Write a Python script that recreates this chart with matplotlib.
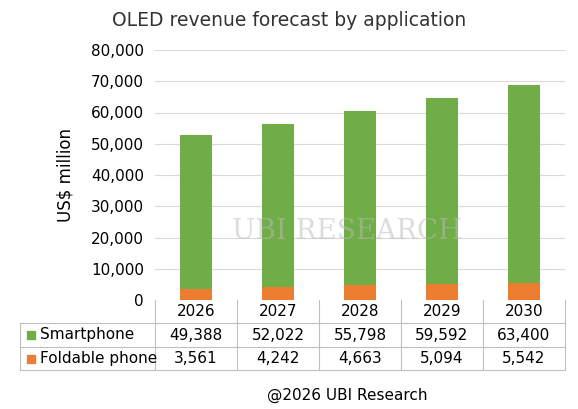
import matplotlib.pyplot as plt
import matplotlib.transforms as mtransforms
from matplotlib.lines import Line2D
from matplotlib.patches import Rectangle

years = ["2026", "2027", "2028", "2029", "2030"]
smartphone = [49388, 52022, 55798, 59592, 63400]
foldable = [3561, 4242, 4663, 5094, 5542]

green = "#70AD47"
orange = "#ED7D31"
W, H = 578, 409

fig = plt.figure(figsize=(5.78, 4.09), dpi=100)
ax = fig.add_axes([155 / W, 1 - 300 / H, 410 / W, 250 / H])
x = range(len(years))
ax.bar(x, foldable, width=0.4, color=orange, zorder=3)
ax.bar(x, smartphone, width=0.4, bottom=foldable, color=green, zorder=3)
ax.set_xlim(-0.5, 4.5)
ax.set_ylim(0, 80000)
ax.set_yticks(range(0, 80001, 10000))
ax.set_yticklabels([f"{v:,}" for v in range(0, 80001, 10000)], fontsize=11)
ax.set_xticks([])
ax.grid(axis="y", color="#d9d9d9", lw=0.8, zorder=0)
for s in ["top", "right", "left", "bottom"]:
    ax.spines[s].set_visible(False)
ax.tick_params(axis="y", length=0, pad=8)
ax.set_ylabel("US$ million", fontsize=12, labelpad=12)
fig.text(0.5, 1 - 20 / H, "OLED revenue forecast by application", ha="center", va="center", fontsize=13.5, color="#333333")

# data table
blend = mtransforms.blended_transform_factory(ax.transData, fig.transFigure)
rows = [("Smartphone", smartphone, green), ("Foldable phone", foldable, orange)]
ys = [300, 323, 347, 370]
lc = "#bfbfbf"
for yy in ys[1:]:
    fig.add_artist(Line2D([20 / W, 565 / W], [1 - yy / H] * 2, color=lc, lw=0.8))
for i in range(6):
    xx = (155 + 82 * i) / W
    fig.add_artist(Line2D([xx, xx], [1 - 300 / H, 1 - 370 / H], color=lc, lw=0.8))
fig.add_artist(Line2D([20 / W] * 2, [1 - 323 / H, 1 - 370 / H], color=lc, lw=0.8))
for j, yr in enumerate(years):
    ax.text(j, 1 - 311 / H, yr, transform=blend, ha="center", va="center", fontsize=11)
for r, (name, vals, col) in enumerate(rows):
    yc = 1 - (ys[r + 1] + ys[r + 2]) / 2 / H
    fig.add_artist(Rectangle((27 / W, yc - 4 / H), 8 / W, 8 / H, color=col))
    fig.text(40 / W, yc, name, ha="left", va="center", fontsize=11)
    for j, v in enumerate(vals):
        ax.text(j, yc, f"{v:,}", transform=blend, ha="center", va="center", fontsize=11)

fig.text(0.6, 1 - 232 / H, "UBI RESEARCH", ha="center", va="center", fontsize=20, color="#bbbbbb", alpha=0.5, family="serif")
fig.text(0.60, 1 - 395 / H, "@2026 UBI Research", ha="center", va="center", fontsize=11)
fig.savefig("out.png", dpi=100)
